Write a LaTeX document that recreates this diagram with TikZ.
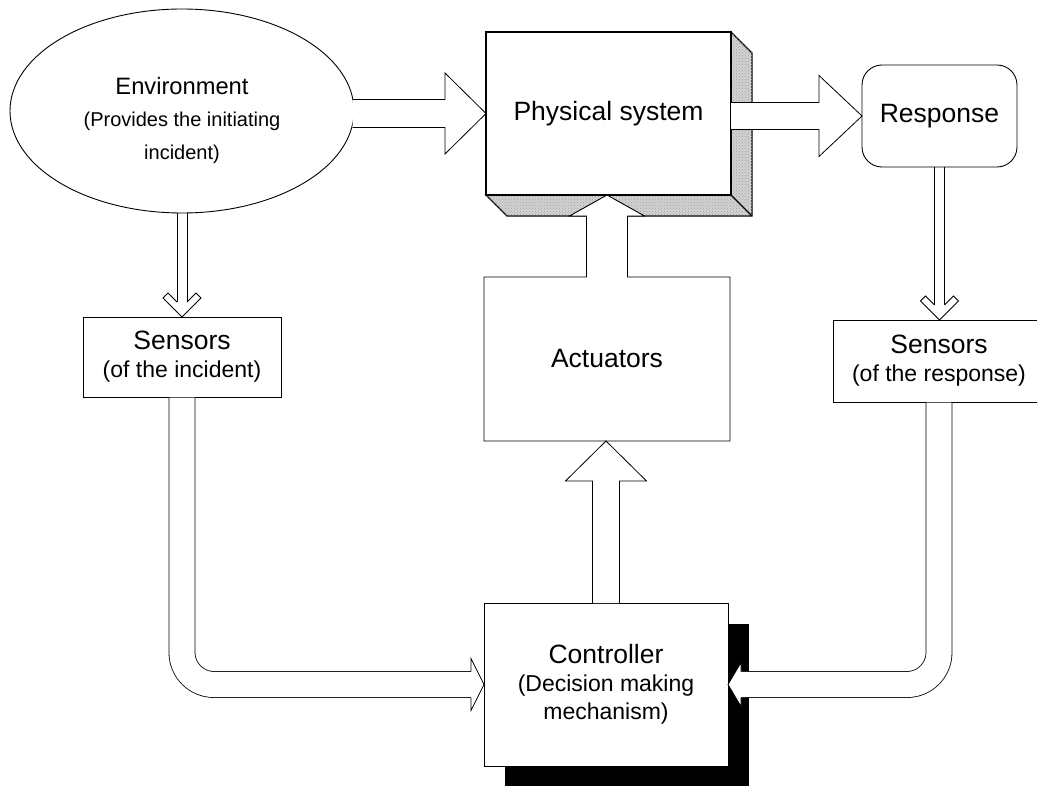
\documentclass[tikz,border=0pt]{standalone}
\usepackage{fontspec}
\setmainfont{Liberation Sans}
\usetikzlibrary{shapes.geometric,calc,patterns}

% second (smaller) line inside a box
\newcommand\smallline[1]{{\fontsize{23}{28}\selectfont #1}}

\begin{document}
\begin{tikzpicture}[x=1pt,y=-1pt,
  every node/.style={inner sep=0pt,outer sep=0pt},
  title/.style={font=\fontsize{26.5}{28}\selectfont,align=center},
  box/.style={draw,line width=0.9pt,fill=white,rectangle,title},
  blk/.style={draw,line width=0.8pt,fill=white,line join=miter},
  thinline/.style={draw,line width=0.8pt},
  wideshaft/.style={draw,line width=0.8pt,double=white,double distance=25.2pt,rounded corners=32pt},
  shade3d/.style={fill=gray!35,draw,line width=1.2pt,line join=miter,
    postaction={pattern=crosshatch dots,pattern color=gray!75}}
]
\useasboundingbox (0,0) rectangle (1037,786);

% ---- shapes ----
\node[ellipse,draw,line width=0.9pt,minimum width=344pt,minimum height=204pt] (env) at (182,111) {};
\node[font=\fontsize{23.7}{32.5}\selectfont,align=center] (envtext) at (182,120)
  {Environment\\{\fontsize{20}{32.5}\selectfont (Provides the initiating}\\{\fontsize{20}{32.5}\selectfont incident)}};

\node[draw,line width=1.2pt,fill=white,minimum width=245pt,minimum height=163pt,title] (phys) at (608.5,113.5) {Physical system};
% extruded right and bottom faces
\path[shade3d] (phys.north east) -- ++(21,21) -- ($(phys.south east)+(21,21)$)
  -- ($(phys.south west)+(21,21)$) -- (phys.south west) -- (phys.south east) -- cycle;
\draw[line width=1.2pt] (phys.south east) -- ++(21,21);
\draw[line width=1.2pt] (phys.south west) rectangle (phys.north east);

\node[draw,line width=0.9pt,fill=white,rounded corners=20pt,minimum width=155pt,minimum height=102pt,title] (resp) at (939.5,116) {Response};

\node[minimum width=246pt,minimum height=164pt] (act) at (607,359) {};
\coordinate (acttip) at (act.north |- phys.south);
% actuator block with its stem pushing into the physical system
\draw[line width=0.9pt,fill=white,line join=miter]
  (act.south west) -- (act.north west) -- ($(act.north)+(-20.5,0)$)
  -- ($(acttip)+(-20.5,21)$) -- ($(acttip)+(-37.5,21)$) -- (acttip)
  -- ($(acttip)+(37.5,21)$) -- ($(acttip)+(20.5,21)$) -- ($(act.north)+(20.5,0)$)
  -- (act.north east) -- (act.south east) -- cycle;
\node[title] (actlabel) at (act.center) {Actuators};

\node[box,minimum width=198pt,minimum height=80pt] (sensI) at (182,357)
  {Sensors\\\smallline{(of the incident)}};
\node[box,minimum width=212pt,minimum height=82pt] (sensR) at (939,361)
  {Sensors\\\smallline{(of the response)}};

\node[minimum width=244pt,minimum height=163pt] (ctrlarea) at (606,684.5) {};
\fill ($(ctrlarea.south west)+(21,21)$) rectangle ($(ctrlarea.north east)+(21,21)$);
\node[box,minimum width=244pt,minimum height=163pt] (ctrl) at (ctrlarea.center)
  {Controller\\\smallline{(Decision making}\\\smallline{mechanism)}};

% ---- block arrows ----
\coordinate (a1s) at (env.east |- phys.west);
\draw[blk] let \p1=(a1s), \p2=(phys.west) in
  (\x1-1.5pt,\y1+14pt) -- (\x2-41pt,\y1+14pt) -- (\x2-41pt,\y1+40.5pt) -- (\x2,\y2)
  -- (\x2-41pt,\y1-40.5pt) -- (\x2-41pt,\y1-14pt) -- (\x1-1.5pt,\y1-14pt);

\coordinate (a2s) at (phys.east |- resp.west);
\draw[blk] let \p1=(a2s), \p2=(resp.west) in
  (\x1,\y1+13.5pt) -- (\x2-43pt,\y1+13.5pt) -- (\x2-43pt,\y1+40.5pt) -- (\x2,\y2)
  -- (\x2-43pt,\y1-40.5pt) -- (\x2-43pt,\y1-13.5pt) -- (\x1,\y1-13.5pt);

\coordinate (a8t) at (ctrl.north |- act.south);
\draw[blk] let \p1=(ctrl.north), \p2=(a8t) in
  (\x1-13.5pt,\y1) -- (\x1-13.5pt,\y2-40pt) -- (\x1-40.5pt,\y2-40pt) -- (\x2,\y2)
  -- (\x1+40.5pt,\y2-40pt) -- (\x1+13.5pt,\y2-40pt) -- (\x1+13.5pt,\y1);

% thin arrows with open chevron heads
\coordinate (a4t) at (env.south |- sensI.north);
\draw[thinline] let \p1=(env.south), \p2=(a4t) in
  (\x1-5pt,\y1) -- (\x2-5pt,\y2+15pt) (\x1+5pt,\y1) -- (\x2+5pt,\y2+15pt);
\draw[blk] let \p2=(a4t) in
  (\x2-5pt,\y2+15pt) -- (\x2-14pt,\y2+24pt) -- (\x2-19pt,\y2+19pt) -- (\x2,\y2)
  -- (\x2+19pt,\y2+19pt) -- (\x2+14pt,\y2+24pt) -- (\x2+5pt,\y2+15pt);

\coordinate (a5t) at (resp.south |- sensR.north);
\draw[thinline] let \p1=(resp.south), \p2=(a5t) in
  (\x1-5pt,\y1) -- (\x2-5pt,\y2+15pt) (\x1+5pt,\y1) -- (\x2+5pt,\y2+15pt);
\draw[blk] let \p2=(a5t) in
  (\x2-5pt,\y2+15pt) -- (\x2-14pt,\y2+24pt) -- (\x2-19pt,\y2+19pt) -- (\x2,\y2)
  -- (\x2+19pt,\y2+19pt) -- (\x2+14pt,\y2+24pt) -- (\x2+5pt,\y2+15pt);

% bent arrows from the sensors into the controller
\draw[wideshaft] ($(sensI.south)+(0,0.6)$) |- ($(ctrl.west)+(-13,0)$);
\draw[blk] let \p2=(ctrl.west) in
  (\x2-13pt,\y2+13pt) -- (\x2-13pt,\y2+26pt) -- (\x2,\y2)
  -- (\x2-13pt,\y2-26pt) -- (\x2-13pt,\y2-13pt);

\draw[wideshaft] ($(sensR.south)+(0,0.6)$) |- ($(ctrl.east)+(13,0)$);
\draw[blk] let \p2=(ctrl.east) in
  (\x2+13pt,\y2+13pt) -- (\x2+13pt,\y2+22pt) -- (\x2,\y2)
  -- (\x2+13pt,\y2-22pt) -- (\x2+13pt,\y2-13pt);
\end{tikzpicture}
\end{document}
